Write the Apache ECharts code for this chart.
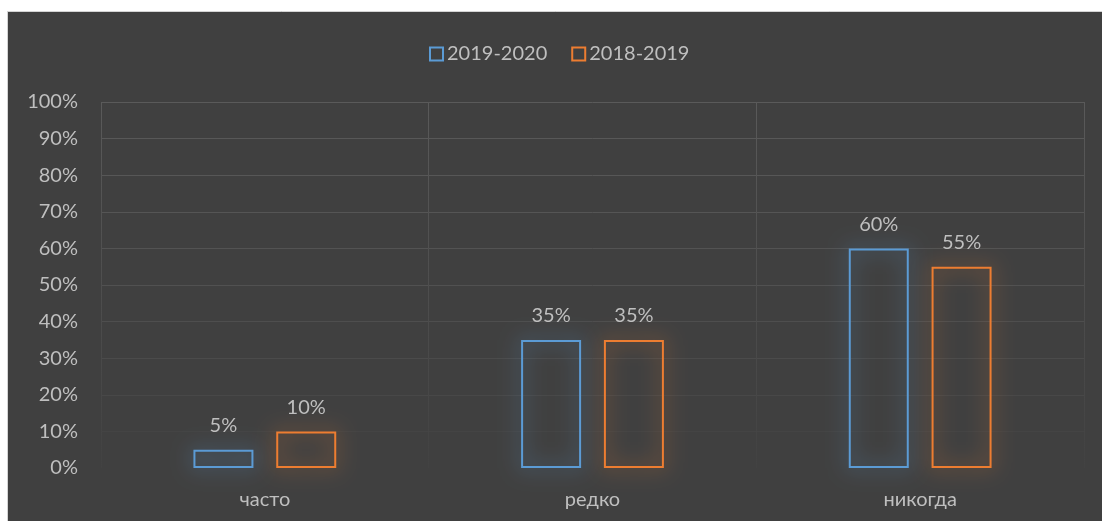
<!DOCTYPE html>
<html><head><meta charset="utf-8">
<script src="https://cdn.jsdelivr.net/npm/echarts@6/dist/echarts.min.js"></script>
<style>html,body{margin:0;padding:0;background:#fff;}#c{width:1102px;height:521px;}</style>
</head><body><div id="c"></div>
<script>
const categories = ['часто', 'редко', 'никогда'];
const seriesNames = ['2019-2020', '2018-2019'];
const values2019_2020 = [5, 35, 60];
const values2018_2019 = [10, 35, 55];
const yTicks = [0, 10, 20, 30, 40, 50, 60, 70, 80, 90, 100];

const chart = echarts.init(document.getElementById('c'), null, {renderer: 'canvas'});
const font = 'Lato, "Open Sans", sans-serif';
const fs = 20;
const txt = '#bfbfbf';
function barSeries(name, data, color, glow) {
  return {
    name: name, type: 'bar', data: data, barWidth: 60, barGap: '38%',
    itemStyle: {color: 'rgba(0,0,0,0)', borderColor: color, borderWidth: 2, shadowBlur: 20, shadowColor: glow},
    label: {show: true, position: 'top', distance: 14, formatter: '{c}%', color: txt, fontSize: fs, fontFamily: font},
    emphasis: {disabled: true}
  };
}
chart.setOption({
  backgroundColor: '#fff',
  animation: false,
  graphic: [{type: 'rect', z: -10, shape: {x: 7.5, y: 11.5, width: 1100, height: 520}, style: {fill: '#404040', stroke: '#d4d4d4', lineWidth: 1}}],
  legend: {
    top: 39, left: 424, itemWidth: 13, itemHeight: 13, itemGap: 24,
    icon: 'rect',
    textStyle: {color: txt, fontSize: fs, fontFamily: font, padding: [0, 0, 0, -1]},
    data: seriesNames.map((n, i) => ({name: n, itemStyle: {color: 'rgba(0,0,0,0)', borderColor: i === 0 ? '#5b9bd5' : '#ed7d31', borderWidth: 2}}))
  },
  grid: {left: 101, right: 18, top: 102, bottom: 53},
  xAxis: {
    type: 'category', data: categories,
    axisLine: {show: false}, axisTick: {show: false},
    axisLabel: {color: txt, fontSize: fs, fontFamily: font, margin: 22},
    splitLine: {show: true, interval: 0, lineStyle: {width: 1, color: new echarts.graphic.LinearGradient(0, 0, 0, 1, [{offset: 0, color: '#5a5a5a'}, {offset: 1, color: '#424242'}])}}
  },
  yAxis: {
    type: 'value', min: 0, max: 100, interval: 10,
    axisLabel: {color: txt, fontSize: fs, fontFamily: font, margin: 23, formatter: v => yTicks.includes(v) ? v + '%' : ''},
    axisLine: {show: false}, axisTick: {show: false},
    splitLine: {lineStyle: {width: 1, color: ['#404040', '#444444', '#484848', '#4b4b4b', '#4e4e4e', '#515151', '#535353', '#555555', '#575757', '#585858', '#5a5a5a']}}
  },
  series: [
    barSeries(seriesNames[0], values2019_2020, '#5b9bd5', 'rgba(91,155,213,1)'),
    barSeries(seriesNames[1], values2018_2019, '#ed7d31', 'rgba(237,125,49,1)')
  ]
});
</script></body></html>
